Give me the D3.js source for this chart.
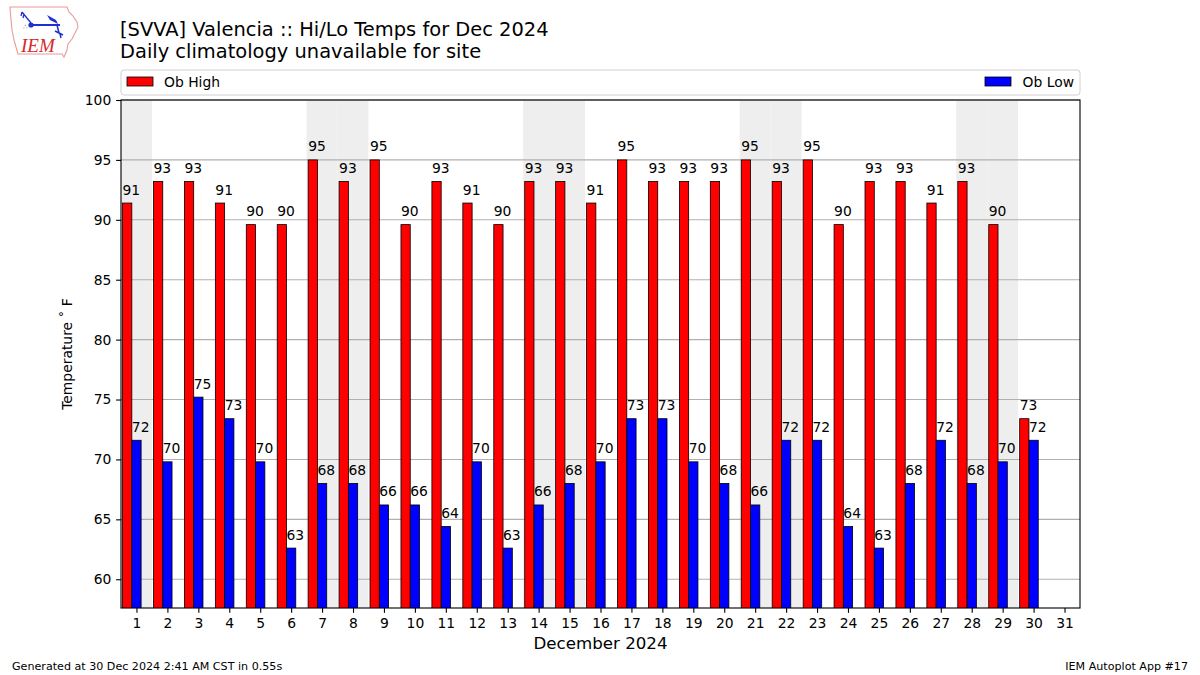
<!DOCTYPE html>
<html>
<head>
<meta charset="utf-8">
<script src="https://cdn.jsdelivr.net/npm/d3@7"></script>
<style>
html,body{margin:0;padding:0;background:#fff;}
svg{display:block;font-family:"DejaVu Sans",sans-serif;}
</style>
</head>
<body>
<svg id="chart" width="1200" height="675"></svg>
<script>
// ---- data ----
const days = d3.range(1, 31);
const highs = [91.4,93.2,93.2,91.4,89.6,89.6,95,93.2,95,89.6,93.2,91.4,89.6,93.2,93.2,91.4,95,93.2,93.2,93.2,95,93.2,95,89.6,93.2,93.2,91.4,93.2,89.6,73.4];
const lows  = [71.6,69.8,75.2,73.4,69.8,62.6,68,68,66.2,66.2,64.4,69.8,62.6,66.2,68,69.8,73.4,73.4,69.8,68,66.2,71.6,71.6,64.4,62.6,68,71.6,68,69.8,71.6];
const weekendDays = [1,7,8,14,15,21,22,28,29];
const xTicks = d3.range(1, 32);
const yTicks = [60,65,70,75,80,85,90,95,100];
const titleLines = ["[SVVA] Valencia :: Hi/Lo Temps for Dec 2024", "Daily climatology unavailable for site"];
const seriesNames = ["Ob High", "Ob Low"];
const xLabel = "December 2024";
const yLabel = "Temperature \u02DA F";
const footerLeft = "Generated at 30 Dec 2024 2:41 AM CST in 0.55s";
const footerRight = "IEM Autoplot App #17";

// ---- layout ----
const pt = 100 / 72;
const L = 121, R = 1080, T = 100, B = 608;
const svg = d3.select("#chart");
const x = d3.scaleLinear().domain([0.5, 31.5]).range([L, R]);
const y = d3.scaleLinear().domain([57.6, 100]).range([B, T]);
const bw = 0.3;
const pxW = x(bw) - x(0);

// logo
const logo = svg.append("g");
logo.append("path")
  .attr("d","M10,7 L67,7 L69,12 L73,16 L77,22 L78,27 L75,33 L72,39 L68,44 L67,50 L64,57 L62,54 L18,54 L16,47 L14,40 L12,30 L11,20 Z")
  .attr("fill","none").attr("stroke","#ea9a99").attr("stroke-width",1.1);
logo.append("line").attr("x1",31).attr("y1",25).attr("x2",60).attr("y2",25).attr("stroke","#1f2fd0").attr("stroke-width",2);
logo.append("circle").attr("cx",31).attr("cy",25).attr("r",2.6).attr("fill","#1f2fd0");
logo.append("path").attr("d","M22,12 L31,23 M22,12 L21,16 M24,14 L23,18").attr("stroke","#1f2fd0").attr("stroke-width",1.3).attr("fill","none");
logo.append("path").attr("d","M47,15 L56,20 L58,24 L50,20 Z").attr("fill","#1f2fd0");
logo.append("path").attr("d","M57,25 L59,33 M55,31 L63,35 M60,34 L61,38").attr("stroke","#1f2fd0").attr("stroke-width",1.5).attr("fill","none");
logo.append("text").attr("x",23).attr("y",29).attr("font-size",7).attr("fill","#1f2fd0").text("\u2234");
logo.append("text").attr("x",21).attr("y",52).attr("font-family","Liberation Serif, serif").attr("font-style","italic")
  .attr("font-size",19).attr("fill","#d42a2a").text("IEM");

// title
svg.selectAll("text.title").data(titleLines).enter().append("text")
  .attr("x", 120).attr("y", (d,i) => 36 + i*22.3)
  .attr("font-size", 14 * pt).attr("fill","#000").text(d => d);

// weekend shading
svg.append("g").selectAll("rect").data(weekendDays).enter().append("rect")
  .attr("x", d => x(d - 0.5)).attr("width", x(1) - x(0))
  .attr("y", T).attr("height", B - T).attr("fill", "#eeeeee");

// grid
svg.append("g").selectAll("line").data(yTicks).enter().append("line")
  .attr("x1", L).attr("x2", R).attr("y1", d => y(d)).attr("y2", d => y(d))
  .attr("stroke", "#b0b0b0").attr("stroke-width", 0.8 * pt);

// bars
svg.append("clipPath").attr("id","clipA").append("rect").attr("x",L).attr("y",T).attr("width",R-L).attr("height",B-T);
const barG = svg.append("g").attr("clip-path","url(#clipA)");
const hiData = days.map((d,i) => ({d, v: highs[i]}));
const loData = days.map((d,i) => ({d, v: lows[i]}));
barG.selectAll("rect.hi").data(hiData).enter().append("rect")
  .attr("x", o => x(o.d - 0.3 - bw/2)).attr("width", pxW)
  .attr("y", o => y(o.v)).attr("height", o => B + 2 - y(o.v))
  .attr("fill", "#ff0000").attr("stroke", "#000").attr("stroke-width", 0.8);
barG.selectAll("rect.lo").data(loData).enter().append("rect")
  .attr("x", o => x(o.d - bw/2)).attr("width", pxW)
  .attr("y", o => y(o.v)).attr("height", o => B + 2 - y(o.v))
  .attr("fill", "#0000ff").attr("stroke", "#000").attr("stroke-width", 0.8);

// value labels
const lab = svg.append("g").attr("font-size", 10 * pt).attr("fill", "#000");
lab.selectAll("text.hi").data(hiData).enter().append("text")
  .attr("x", o => x(o.d - 0.3 - bw/2)).attr("y", o => y(o.v) - 8.5)
  .text(o => Math.round(o.v));
lab.selectAll("text.lo").data(loData).enter().append("text")
  .attr("x", o => x(o.d - bw/2)).attr("y", o => y(o.v) - 8.5)
  .text(o => Math.round(o.v));

// axes
const xAxis = d3.axisBottom(x).tickValues(xTicks).tickSize(3.5 * pt).tickPadding(3.5 * pt).tickFormat(d3.format("d"));
const yAxis = d3.axisLeft(y).tickValues(yTicks).tickSize(3.5 * pt).tickPadding(3.5 * pt).tickFormat(d3.format("d"));
const gx = svg.append("g").attr("transform", `translate(0,${B})`).call(xAxis);
const gy = svg.append("g").attr("transform", `translate(${L},0)`).call(yAxis);
[gx, gy].forEach(g => {
  g.select(".domain").remove();
  g.selectAll("text").attr("font-size", 10 * pt).attr("font-family", "DejaVu Sans").attr("fill","#000");
  g.selectAll("line").attr("stroke", "#000").attr("stroke-width", 0.8 * pt);
});
svg.append("rect").attr("x", L).attr("y", T).attr("width", R - L).attr("height", B - T)
  .attr("fill", "none").attr("stroke", "#000").attr("stroke-width", 0.8 * pt);

// axis labels
svg.append("text").attr("x", (L + R) / 2).attr("y", 648.5).attr("text-anchor", "middle")
  .attr("font-size", 12 * pt).text(xLabel);
svg.append("text").attr("transform", `translate(72,${(T + B) / 2}) rotate(-90)`).attr("text-anchor", "middle")
  .attr("font-size", 10 * pt).text(yLabel);

// legend
const lg = svg.append("g");
lg.append("rect").attr("x", 121).attr("y", 70).attr("width", 959).attr("height", 25).attr("rx", 3)
  .attr("fill", "#fff").attr("fill-opacity", 0.8).attr("stroke", "#d0d0d0").attr("stroke-width", 1);
lg.append("rect").attr("x", 127).attr("y", 77).attr("width", 26).attr("height", 9)
  .attr("fill", "#ff0000").attr("stroke", "#000").attr("stroke-width", 0.8);
lg.append("text").attr("x", 164).attr("y", 87).attr("font-size", 10 * pt).text(seriesNames[0]);
lg.append("rect").attr("x", 985).attr("y", 77).attr("width", 26).attr("height", 9)
  .attr("fill", "#0000ff").attr("stroke", "#000").attr("stroke-width", 0.8);
lg.append("text").attr("x", 1074).attr("y", 87).attr("text-anchor", "end").attr("font-size", 10 * pt).text(seriesNames[1]);

// footer
svg.append("text").attr("x", 12).attr("y", 670).attr("font-size", 8 * pt).text(footerLeft);
svg.append("text").attr("x", 1188).attr("y", 670).attr("text-anchor", "end").attr("font-size", 8 * pt).text(footerRight);
</script>
</body>
</html>
